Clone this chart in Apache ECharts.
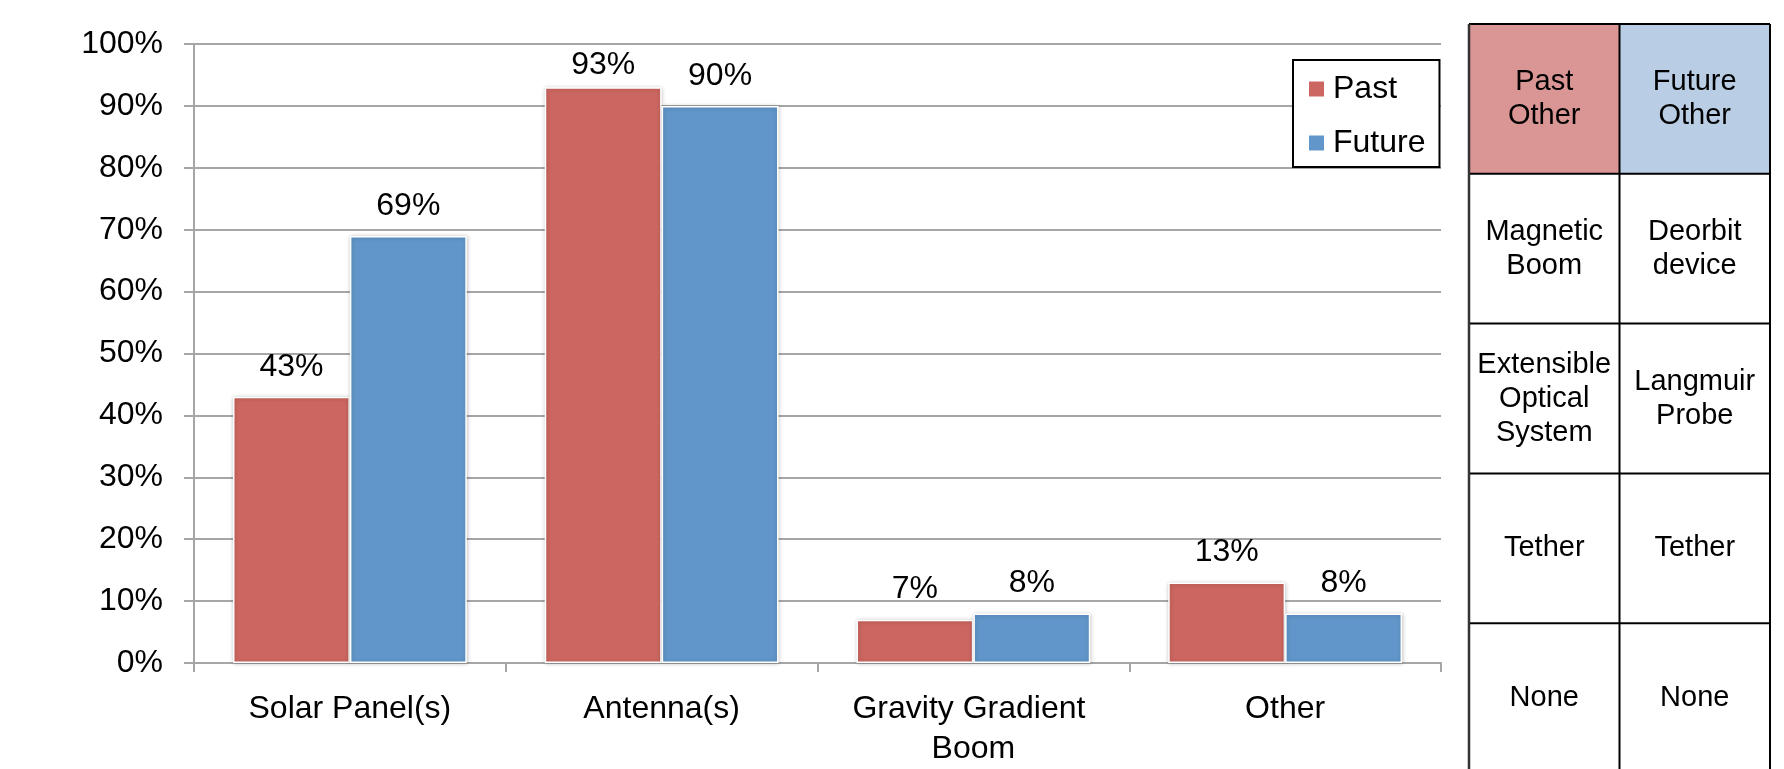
<!DOCTYPE html>
<html>
<head>
<meta charset="utf-8">
<title>Deployables: Past vs Future</title>
<script src="https://cdn.jsdelivr.net/npm/echarts@6/dist/echarts.min.js"></script>
<style>
  html, body { margin: 0; padding: 0; background: #ffffff; }
  #chart { width: 1784px; height: 769px; }
</style>
</head>
<body>
<div id="chart"></div>
<script>
// Share of missions carrying each deployable type
const categories = ['Solar Panel(s)', 'Antenna(s)', 'Gravity Gradient Boom', 'Other'];
const pastValues = [43, 93, 7, 13];
const futureValues = [69, 90, 8, 8];
const seriesNames = ['Past', 'Future'];
const yTicks = [0, 100, 10]; // min, max, step

// "Other" breakdown shown in the side table
const pastOther = ['Past\nOther', 'Magnetic\nBoom', 'Extensible\nOptical\nSystem', 'Tether', 'None'];
const futureOther = ['Future\nOther', 'Deorbit\ndevice', 'Langmuir\nProbe', 'Tether', 'None'];

const FONT = '"Liberation Sans", Arial, Helvetica, sans-serif';
const PAST_COLOR = '#CC6660';
const FUTURE_COLOR = '#6096C9';
const GRID_GRAY = '#A6A6A6';

const chart = echarts.init(document.getElementById('chart'), null, { renderer: 'canvas' });

function barSeries(name, values, color, overrides) {
  return {
    name: name,
    type: 'bar',
    barGap: '0%',
    barCategoryGap: '25%',
    data: values.map(function (v, i) {
      const item = { value: v };
      if (overrides && overrides[i]) item.label = overrides[i];
      return item;
    }),
    itemStyle: {
      color: color,
      borderColor: '#ffffff',
      borderWidth: 1.5,
      shadowBlur: 4,
      shadowColor: 'rgba(0,0,0,0.22)',
      shadowOffsetX: 0.5,
      shadowOffsetY: 0.5
    },
    label: {
      show: true,
      position: 'top',
      distance: 14,
      formatter: '{c}%',
      color: '#000000',
      fontFamily: FONT,
      fontSize: 32
    }
  };
}

// Side table: two columns, five rows, header row tinted per series
function buildTable() {
  const left = 1469, colW = 150.5, top = 24, rowH = 149.8;
  const rows = pastOther.length;
  const children = [];
  const headerFill = ['#D99694', '#B9CDE5'];
  for (let c = 0; c < 2; c++) {
    children.push({
      type: 'rect',
      shape: { x: left + c * colW, y: top, width: colW, height: rowH },
      style: { fill: headerFill[c] },
      z: 1
    });
  }
  const cols = [pastOther, futureOther];
  for (let c = 0; c < 2; c++) {
    for (let r = 0; r < rows; r++) {
      children.push({
        type: 'text',
        x: left + c * colW + colW / 2,
        y: top + r * rowH + rowH / 2,
        style: {
          text: cols[c][r],
          fill: '#000000',
          font: '29px ' + FONT,
          align: 'center',
          verticalAlign: 'middle',
          lineHeight: 34
        },
        z: 3
      });
    }
  }
  const lineStyle = { stroke: '#000000', lineWidth: 2 };
  for (let r = 0; r <= rows; r++) {
    const y = top + r * rowH;
    children.push({ type: 'line', shape: { x1: left, y1: y, x2: left + 2 * colW, y2: y }, style: lineStyle, z: 2 });
  }
  const bottom = top + rows * rowH;
  children.push({ type: 'line', shape: { x1: left, y1: top, x2: left, y2: bottom }, style: { stroke: '#333333', lineWidth: 2.5 }, z: 2 });
  children.push({ type: 'line', shape: { x1: left + colW, y1: top, x2: left + colW, y2: bottom }, style: lineStyle, z: 2 });
  children.push({ type: 'line', shape: { x1: left + 2 * colW, y1: top, x2: left + 2 * colW, y2: bottom }, style: lineStyle, z: 2 });
  return { type: 'group', children: children };
}

const option = {
  backgroundColor: '#ffffff',
  animation: false,
  textStyle: { fontFamily: FONT },
  grid: { left: 194, right: 343, top: 44, bottom: 105, containLabel: false },
  legend: {
    data: seriesNames,
    orient: 'vertical',
    left: 1293,
    top: 60,
    padding: [13, 14, 8, 16],
    itemGap: 22,
    itemWidth: 15,
    itemHeight: 15,
    icon: 'rect',
    borderColor: '#000000',
    borderWidth: 2,
    backgroundColor: '#ffffff',
    itemStyle: { borderWidth: 0, shadowBlur: 0 },
    textStyle: { fontFamily: FONT, fontSize: 32, color: '#000000', padding: [0, 0, 0, 4] }
  },
  xAxis: {
    type: 'category',
    data: categories,
    axisLine: { show: true, lineStyle: { color: GRID_GRAY, width: 2 } },
    axisTick: { show: true, length: 9, lineStyle: { color: GRID_GRAY, width: 2 } },
    axisLabel: {
      color: '#000000',
      fontFamily: FONT,
      fontSize: 32,
      lineHeight: 40,
      margin: 26,
      width: 270,
      overflow: 'break',
      interval: 0
    }
  },
  yAxis: {
    type: 'value',
    min: yTicks[0],
    max: yTicks[1],
    interval: yTicks[2],
    axisLine: { show: true, lineStyle: { color: GRID_GRAY, width: 2 } },
    axisTick: { show: true, length: 10, lineStyle: { color: GRID_GRAY, width: 2 } },
    splitLine: { show: true, lineStyle: { color: GRID_GRAY, width: 2 } },
    axisLabel: {
      formatter: '{value}%',
      color: '#000000',
      fontFamily: FONT,
      fontSize: 32,
      margin: 31
    }
  },
  series: [
    barSeries(seriesNames[0], pastValues, PAST_COLOR, { 1: { distance: 6 } }),
    barSeries(seriesNames[1], futureValues, FUTURE_COLOR)
  ],
  graphic: [buildTable()]
};

chart.setOption(option);
</script>
</body>
</html>
